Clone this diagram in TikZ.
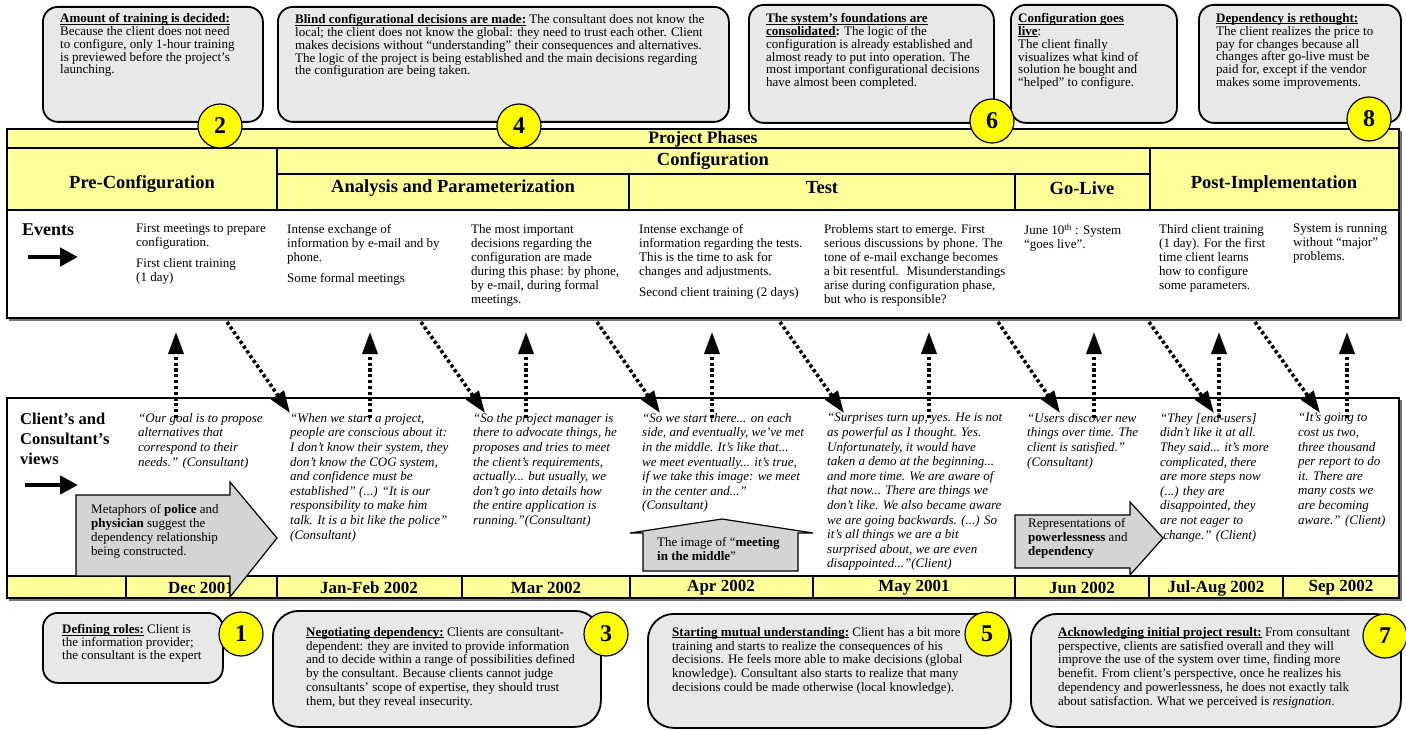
\documentclass[tikz,border=0pt]{standalone}
\usepackage{fontspec}
\setmainfont{Liberation Serif}
\usepackage{tikz}
\usetikzlibrary{arrows.meta}
\definecolor{bandyellow}{HTML}{FFFF99}
\definecolor{discyellow}{HTML}{FFFF00}
\definecolor{notegrey}{HTML}{E8E8E8}
\definecolor{blockgrey}{HTML}{D4D4D4}
\newcommand{\ulhd}[1]{\textbf{\underline{\smash{#1}}\vphantom{#1}}}

\tikzset{
  note/.style={draw=black, line width=1.8pt, fill=notegrey, rounded corners=15pt, anchor=north west},
  bignote/.style={note, rounded corners=26pt},
  disc/.style={circle, draw=black, line width=1.2pt, fill=discyellow, minimum size=44pt, inner sep=0pt, font=\fontsize{24}{24}\selectfont\bfseries},
  notetext/.style={anchor=north west, align=left, inner sep=0pt, font=\fontsize{13}{12.9}\selectfont},
  lownotetext/.style={notetext, font=\fontsize{13}{13.8}\selectfont},
  evtext/.style={anchor=north west, align=left, inner sep=0pt, font=\fontsize{13}{14}\selectfont},
  viewtext/.style={anchor=north west, align=left, inner sep=0pt, font=\fontsize{13}{14.6}\selectfont\itshape},
  phase/.style={inner sep=0pt, font=\fontsize{18.5}{18}\selectfont\bfseries},
  datecell/.style={inner sep=0pt, font=\fontsize{17}{17}\selectfont\bfseries},
  rowlabel/.style={anchor=north west, align=left, inner sep=0pt, font=\fontsize{16.5}{20}\selectfont\bfseries},
  dotlink/.style={line width=3.6pt, dash pattern=on 3.2pt off 2.6pt, -{Triangle[length=22pt,width=15pt]}},
  boldlink/.style={line width=4.5pt, -{Triangle[length=18pt,width=18pt]}},
  block/.style={draw=black, line width=1.2pt, fill=blockgrey},
  rule/.style={draw=black, line width=1.5pt},
}

\begin{document}
\begin{tikzpicture}[x=1pt, y=-1pt]
    \useasboundingbox (0,0) rectangle (1406,730);

    % Upper notes.
    \node[note, minimum width=220pt, minimum height=115pt] (n2) at (42,6) {};
    \node[notetext] (t2) at ([shift={(18,7)}]n2.north west)
        {\ulhd{Amount of training is decided:}\\Because the client does not need\\to configure, only 1-hour training\\is previewed before the project’s\\launching.};
    \node[note, minimum width=451pt, minimum height=115pt] (n4) at (277,6) {};
    \node[notetext] (t4) at ([shift={(18,8)}]n4.north west)
        {\ulhd{Blind configurational decisions are made:} The consultant does not know the\\local; the client does not know the global: they need to trust each other. Client\\makes decisions without “understanding” their consequences and alternatives.\\The logic of the project is being established and the main decisions regarding\\the configuration are being taken.};
    \node[note, minimum width=245pt, minimum height=118pt] (n6) at (748,4) {};
    \node[notetext] (t6) at ([shift={(18,9)}]n6.north west)
        {\ulhd{The system’s foundations are}\\\ulhd{consolidated}\textbf{:} The logic of the\\configuration is already established and\\almost ready to put into operation. The\\most important configurational decisions\\have almost been completed.};
    \node[note, minimum width=166pt, minimum height=118pt] (nl) at (1010,4) {};
    \node[notetext] (tl) at ([shift={(8,9)}]nl.north west)
        {\ulhd{Configuration goes}\\\ulhd{live}:\\The client finally\\visualizes what kind of\\solution he bought and\\“helped” to configure.};
    \node[note, minimum width=202pt, minimum height=118pt] (n8) at (1198,4) {};
    \node[notetext] (t8) at ([shift={(18,9)}]n8.north west)
        {\ulhd{Dependency is rethought:}\\The client realizes the price to\\pay for changes because all\\changes after go-live must be\\paid for, except if the vendor\\makes some improvements.};

    % Phases.
    \fill[bandyellow] (7,129) rectangle (1399,210);
    \fill[white] (7,210) rectangle (1399,318);
    \draw[rule] (7,129) rectangle (1399,318);
    \draw[rule] (7,148) -- (1399,148);
    \draw[rule] (277,174) -- (1150,174);
    \draw[rule] (7,210) -- (1399,210);
    \foreach \x in {277,1150}
    {
        \draw[rule] (\x,148) -- (\x,210);
    }
    \foreach \x in {629,1015}
    {
        \draw[rule] (\x,174) -- (\x,210);
    }
    \draw[black!55, line width=2pt] (9,320) -- (1401,320) -- (1401,131);

    \node[phase, font=\fontsize{17.5}{17}\selectfont\bfseries] (pp) at (703,139) {Project Phases};
    \node[phase] (cf) at (713,161) {Configuration};
    \node[phase] (pre) at (142,184) {Pre-Configuration};
    \node[phase] (ap) at (453,188) {Analysis and Parameterization};
    \node[phase] (ts) at (822,188) {Test};
    \node[phase] (gl) at (1082,188) {Go-Live};
    \node[phase] (post) at (1274,184) {Post-Implementation};

    \node[disc] (d2) at (220,126) {2};
    \node[disc] (d4) at (519,126) {4};
    \node[disc] (d6) at (992,121) {6};
    \node[disc] (d8) at (1369,119) {8};

    % Events.
    \node[rowlabel, font=\fontsize{18}{20}\selectfont\bfseries] (ev) at (22,224) {Events};
    \coordinate (evs) at (28,257);
    \coordinate (eve) at (78,257);
    \draw[boldlink] (evs) -- (eve);

    \node[evtext] (e1) at (136,224) {First meetings to prepare\\configuration.\\[7pt]First client training\\(1 day)};
    \node[evtext] (e2) at (287,224) {Intense exchange of\\information by e-mail and by\\phone.\\[7pt]Some formal meetings};
    \node[evtext] (e3) at (471,224) {The most important\\decisions regarding the\\configuration are made\\during this phase: by phone,\\by e-mail, during formal\\meetings.};
    \node[evtext] (e4) at (639,224) {Intense exchange of\\information regarding the tests.\\This is the time to ask for\\changes and adjustments.\\[7pt]Second client training (2 days)};
    \node[evtext] (e5) at (824,224) {Problems start to emerge. First\\serious discussions by phone. The\\tone of e-mail exchange becomes\\a bit resentful.~ Misunderstandings\\arise during configuration phase,\\but who is responsible?};
    \node[evtext] (e6) at (1024,224) {June 10\textsuperscript{th} : System\\“goes live”.};
    \node[evtext] (e7) at (1159,224) {Third client training\\(1 day). For the first\\time client learns\\how to configure\\some parameters.};
    \node[evtext] (e8) at (1293,224) {System is running\\without “major”\\problems.};

    % Views.
    \draw[rule] (7,398) rectangle (1399,598);
    \fill[bandyellow] (7,576) rectangle (1399,598);
    \draw[rule] (7,576) rectangle (1399,598);
    \draw[black!55, line width=2pt] (9,600) -- (1401,600) -- (1401,400);
    \foreach \x in {126,277,462,630,813,1015,1149,1283}
    {
        \draw[rule] (\x,576) -- (\x,598);
    }
    \foreach \x/\lab [count=\i] in {201/Dec 2001, 369/Jan-Feb 2002, 546/Mar 2002, 721/Apr 2002, 914/May 2001, 1082/Jun 2002, 1216/Jul-Aug 2002, 1341/Sep 2002}
    {
        \node[datecell] (dt\i) at (\x,588) {\lab};
    }

    \node[rowlabel] (vw) at (20,413) {Client’s and\\Consultant’s\\views};
    \coordinate (vws) at (25,485);
    \coordinate (vwe) at (78,485);
    \draw[boldlink] (vws) -- (vwe);

    \node[viewtext] (v1) at (138,413) {“Our goal is to propose\\alternatives that\\correspond to their\\needs.” (Consultant)};
    \node[viewtext] (v2) at (290,413) {“When we start a project,\\people are conscious about it:\\I don’t know their system, they\\don’t know the COG system,\\and confidence must be\\established” (...) “It is our\\responsibility to make him\\talk. It is a bit like the police”\\(Consultant)};
    \node[viewtext] (v3) at (473,413) {“So the project manager is\\there to advocate things, he\\proposes and tries to meet\\the client’s requirements,\\actually... but usually, we\\don’t go into details how\\the entire application is\\running.”(Consultant)};
    \node[viewtext] (v4) at (642,413) {“So we start there... on each\\side, and eventually, we’ve met\\in the middle. It’s like that...\\we meet eventually... it’s true,\\if we take this image: we meet\\in the center and...”\\(Consultant)};
    \node[viewtext] (v5) at (827,413) {“Surprises turn up, yes. He is not\\as powerful as I thought. Yes.\\Unfortunately, it would have\\taken a demo at the beginning...\\and more time. We are aware of\\that now... There are things we\\don’t like. We also became aware\\we are going backwards. (...) So\\it’s all things we are a bit\\surprised about, we are even\\disappointed...”(Client)};
    \node[viewtext] (v6) at (1027,413) {“Users discover new\\things over time. The\\client is satisfied.”\\(Consultant)};
    \node[viewtext] (v7) at (1160,413) {“They [end-users]\\didn’t like it at all.\\They said... it’s more\\complicated, there\\are more steps now\\(...) they are\\disappointed, they\\are not eager to\\~change.” (Client)};
    \node[viewtext] (v8) at (1298,413) {“It’s going to\\cost us two,\\three thousand\\per report to do\\it. There are\\many costs we\\are becoming\\aware.” (Client)};

    % Block arrows.
    \draw[block] (76,495) -- (230,495) -- (230,482) -- (277,538) -- (230,597) -- (230,576) -- (76,576) -- cycle;
    \node[evtext] (b1) at (91,504) {Metaphors of \textbf{police} and\\\textbf{physician} suggest the\\dependency relationship\\being constructed.};
    \draw[block] (643,571) -- (643,533) -- (630,533) -- (722,519) -- (813,533) -- (798,533) -- (798,571) -- cycle;
    \node[evtext] (b2) at (657,537) {The image of “\textbf{meeting}\\\textbf{in the middle}”};
    \draw[block] (1015,515) -- (1130,515) -- (1130,502) -- (1163,538) -- (1130,575) -- (1130,568) -- (1015,568) -- cycle;
    \node[evtext] (b3) at (1028,518) {Representations of\\\textbf{powerlessness} and\\\textbf{dependency}};

    % Links between events and views.
    \foreach \x [count=\i] in {176,370,526,712,929,1094,1219,1347}
    {
        \coordinate (up\i) at (\x,418);
        \coordinate (upe\i) at (\x,332);
        \draw[dotlink] (up\i) -- (upe\i);
    }
    \foreach \xa/\xb [count=\i] in {227/290, 421/485, 597/660, 780/844, 998/1060, 1149/1214, 1255/1320}
    {
        \coordinate (dn\i) at (\xa,322);
        \coordinate (dne\i) at (\xb,413);
        \draw[dotlink] (dn\i) -- (dne\i);
    }

    % Lower notes.
    \node[note, minimum width=180pt, minimum height=70pt] (m1) at (42,612) {};
    \node[lownotetext, font=\fontsize{13}{13}\selectfont] (s1) at ([shift={(20,12)}]m1.north west)
        {\ulhd{Defining roles:} Client is\\the information provider;\\the consultant is the expert};
    \node[bignote, minimum width=328pt, minimum height=116pt] (m3) at (272,610) {};
    \node[lownotetext] (s3) at ([shift={(34,17)}]m3.north west)
        {\ulhd{Negotiating dependency:} Clients are consultant-\\dependent: they are invited to provide information\\and to decide within a range of possibilities defined\\by the consultant. Because clients cannot judge\\consultants’ scope of expertise, they should trust\\them, but they reveal insecurity.};
    \node[bignote, minimum width=363pt, minimum height=114pt] (m5) at (647,613) {};
    \node[lownotetext] (s5) at ([shift={(25,14)}]m5.north west)
        {\ulhd{Starting mutual understanding:} Client has a bit more\\training and starts to realize the consequences of his\\decisions. He feels more able to make decisions (global\\knowledge). Consultant also starts to realize that many\\decisions could be made otherwise (local knowledge).};
    \node[bignote, minimum width=370pt, minimum height=113pt] (m7) at (1030,613) {};
    \node[lownotetext] (s7) at ([shift={(28,14)}]m7.north west)
        {\ulhd{Acknowledging initial project result:} From consultant\\perspective, clients are satisfied overall and they will\\improve the use of the system over time, finding more\\benefit. From client’s perspective, once he realizes his\\dependency and powerlessness, he does not exactly talk\\about satisfaction. What we perceived is \textit{resignation}.};

    \node[disc] (d1) at (241,634) {1};
    \node[disc] (d3) at (606,634) {3};
    \node[disc] (d5) at (987,634) {5};
    \node[disc] (d7) at (1385,636) {7};
\end{tikzpicture}
\end{document}
